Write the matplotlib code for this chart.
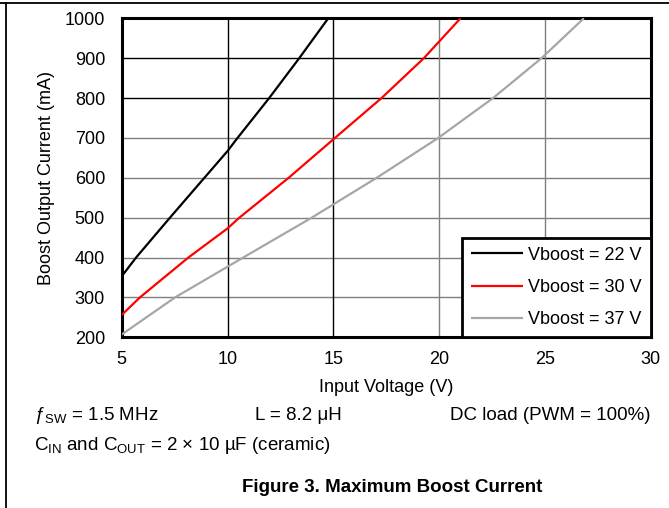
import matplotlib
matplotlib.use("Agg")
import matplotlib.pyplot as plt
from matplotlib.lines import Line2D

plt.rcParams['font.family'] = ['Liberation Sans', 'DejaVu Sans']
plt.rcParams['mathtext.fontset'] = 'custom'
plt.rcParams['mathtext.rm'] = 'Liberation Sans'
plt.rcParams['mathtext.it'] = 'Liberation Sans:italic'

# values
vin_22 = [5.0, 5.68, 7.28, 10.0, 10.43, 11.97, 13.39, 14.76]
iout_22 = [353, 400, 500, 667, 697, 800, 900, 1000]
vin_30 = [5.0, 5.86, 8.15, 10.0, 10.56, 12.89, 15.08, 17.28, 19.28, 21.01]
iout_30 = [256, 300, 400, 473, 500, 600, 700, 800, 900, 1000]
vin_37 = [5.0, 7.52, 10.74, 13.98, 17.05, 19.96, 22.55, 24.84, 26.84]
iout_37 = [207, 300, 400, 500, 600, 700, 800, 900, 1000]
labels = ['Vboost = 22 V', 'Vboost = 30 V', 'Vboost = 37 V']
colors = ['black', '#ff0000', '#a6a6a6']

xticks = [5, 10, 15, 20, 25, 30]
yticks = [200, 300, 400, 500, 600, 700, 800, 900, 1000]

W, H = 669, 508
fig = plt.figure(figsize=(W / 100, H / 100), dpi=100)
ax = fig.add_axes([121.7 / W, 1 - 337.3 / H, 529 / W, 319 / H])

# grid (mixed shades as in the source)
for y in yticks[1:-1]:
    ax.axhline(y, color='black' if y >= 800 else '#7f7f7f', lw=1.0, zorder=1)
for x in xticks[1:-1]:
    ax.axvline(x, color='black' if x <= 15 else '#7f7f7f', lw=1.0, zorder=1)

for vx, iy, lab, c in zip([vin_22, vin_30, vin_37], [iout_22, iout_30, iout_37], labels, colors):
    ax.plot(vx, iy, color=c, lw=1.6, label=lab, zorder=3, solid_capstyle='butt')

ax.set_xlim(5, 30)
ax.set_ylim(200, 1000)
ax.set_xticks(xticks)
ax.set_yticks(yticks)
ax.tick_params(length=0, labelsize=13)
ax.tick_params(axis='y', pad=12)
ax.tick_params(axis='x', pad=10)
for s in ax.spines.values():
    s.set_linewidth(2.2)

leg = ax.legend(loc='lower right', bbox_to_anchor=(1, 0), borderaxespad=0,
                fontsize=13, fancybox=False, framealpha=1, edgecolor='black',
                handlelength=2.86, labelspacing=0.85, borderpad=0.5, handletextpad=0.3)
leg.get_frame().set_linewidth(2.0)

def ftext(px, py, s, **kw):
    fig.text(px / W, 1 - py / H, s, **kw)

ftext(386, 388, 'Input Voltage (V)', fontsize=13, ha='center', va='center')
ftext(47, 178, 'Boost Output Current (mA)', fontsize=13, ha='center', va='center',
      rotation=90)

ftext(34, 416, '\u0192$_{\\mathrm{SW}}$ = 1.5 MHz', fontsize=13.5, va='center')
ftext(255, 416, 'L = 8.2 \u03bcH', fontsize=13.5, va='center')
ftext(650, 416, 'DC load (PWM = 100%)', fontsize=13.5, va='center', ha='right')
ftext(34, 446, 'C$_{\\mathrm{IN}}$ and C$_{\\mathrm{OUT}}$ = 2 \u00d7 10 \u00b5F (ceramic)',
      fontsize=13.5, va='center')
ftext(392, 487, 'Figure 3. Maximum Boost Current', fontsize=13.5, weight='bold',
      va='center', ha='center')

# outer frame (top and left edges only)
fig.add_artist(Line2D([0, 1], [1 - 3.3 / H] * 2, color='black', lw=1.3))
fig.add_artist(Line2D([6.5 / W] * 2, [0, 1 - 3.3 / H], color='black', lw=1.3))

fig.savefig('out.png', dpi=100)
